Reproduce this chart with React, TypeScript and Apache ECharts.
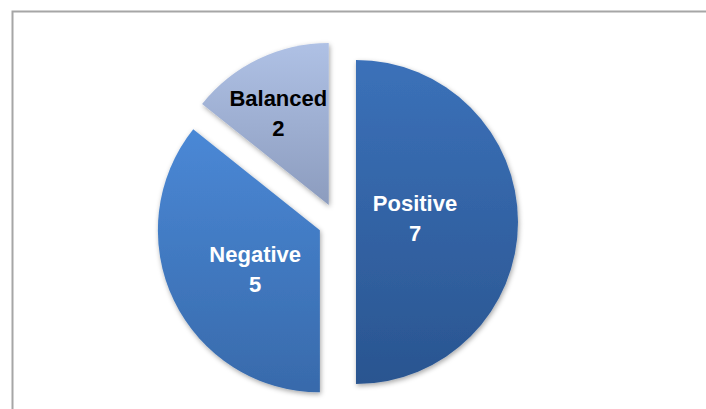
import React, { useEffect, useRef } from "react";
import * as echarts from "echarts";

const categories = ["Positive", "Negative", "Balanced"];
const values = [7, 5, 2];

const topColors = ["#3b71b9", "#4a88d6", "#afc1e5"];
const bottomColors = ["#2a5590", "#386aab", "#8c9cbe"];
const labelColors = ["#ffffff", "#ffffff", "#000000"];
const labelShifts: [number, number][] = [[-25, -4], [11, 3], [-14, -16]];

export default function App() {
  const ref = useRef<HTMLDivElement>(null);
  useEffect(() => {
    if (!ref.current) return;
    const chart = echarts.init(ref.current, null, { renderer: "svg" });
    const data = categories.map((name, i) => ({
      name,
      value: values[i],
      selected: true,
      itemStyle: {
        color: {
          type: "linear",
          x: 0,
          y: 0,
          x2: 0,
          y2: 1,
          colorStops: [
            { offset: 0, color: topColors[i] },
            { offset: 1, color: bottomColors[i] },
          ],
        },
      },
      label: { color: labelColors[i] },
    }));
    chart.setOption({
      animation: false,
      backgroundColor: "#ffffff",
      graphic: [
        {
          type: "rect",
          shape: { x: 12.5, y: 11.5, width: 730, height: 430 },
          style: { fill: "none", stroke: "#a6a6a6", lineWidth: 2 },
          silent: true,
        },
      ],
      series: [
        {
          type: "pie",
          center: [337, 222],
          radius: 162,
          startAngle: 90,
          clockwise: true,
          selectedMode: "multiple",
          selectedOffset: 19,
          emphasis: { disabled: true },
          itemStyle: {
            shadowBlur: 5,
            shadowColor: "rgba(0,0,0,0.35)",
            shadowOffsetX: 1,
            shadowOffsetY: 2,
          },
          label: {
            show: true,
            position: "inside",
            formatter: "{b}\n{c}",
            fontFamily: "Liberation Sans",
            fontWeight: "bold",
            fontSize: 22,
            lineHeight: 30,
            align: "center",
          },
          labelLayout: (p: any) => ({
            dx: labelShifts[p.dataIndex][0],
            dy: labelShifts[p.dataIndex][1],
          }),
          labelLine: { show: false },
          data,
        },
      ],
    });
    return () => chart.dispose();
  }, []);
  return (
    <div
      ref={ref}
      style={{ position: "fixed", left: 0, top: 0, width: 706, height: 409 }}
    />
  );
}
